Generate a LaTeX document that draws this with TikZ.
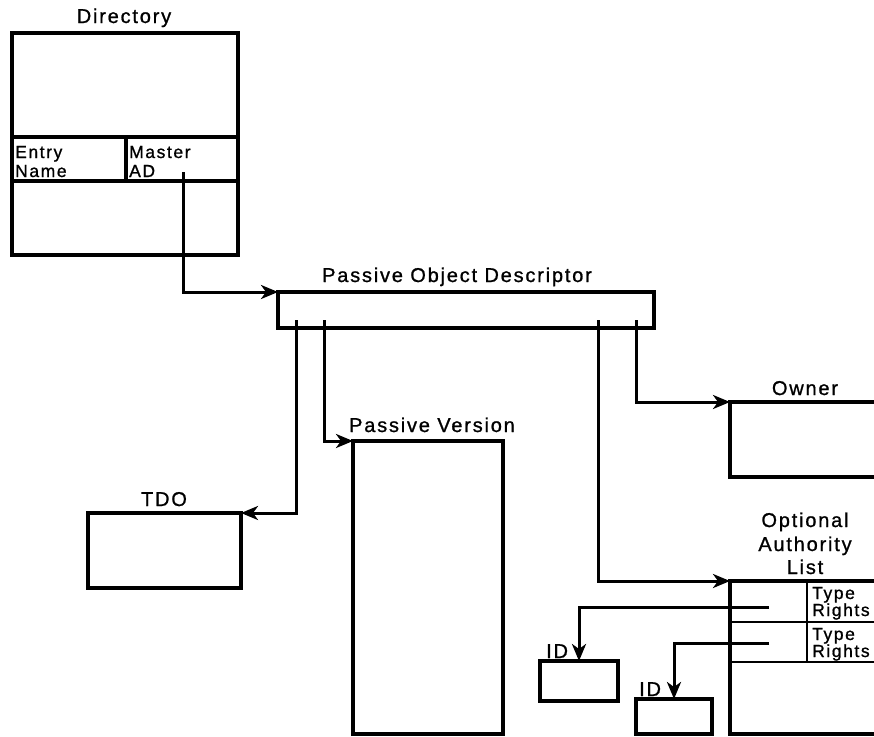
\documentclass[tikz,border=0pt]{standalone}
\usepackage{fontspec}
\setmainfont{Liberation Sans}[LetterSpace=9,FakeBold=1.0]
\usetikzlibrary{arrows.meta}
\begin{document}
\begin{tikzpicture}[x=1pt,y=-1pt,
  box/.style={draw, line width=3.6pt, rectangle, inner sep=0pt, outer sep=0pt, anchor=north west},
  divider/.style={line width=3.4pt},
  thindiv/.style={line width=2.8pt},
  conn/.style={line width=3pt, -{Stealth[length=17pt,width=14pt,inset=5pt]}},
  title/.style={inner sep=0pt, anchor=base, font=\fontsize{20}{23}\selectfont},
  lbl/.style={inner sep=0pt, anchor=base west, font=\fontsize{17.5}{19}\selectfont},
  idlbl/.style={inner sep=0pt, anchor=base west, font=\fontsize{20}{23}\selectfont}
]
\useasboundingbox (0,0) rectangle (874,736);
\clip (0,0) rectangle (874,736);

% Directory
\node[title] (tdir) at (124,23) {Directory};
\node[box, minimum width=226pt, minimum height=222pt] (dir) at (12,33) {};
\draw[divider] (12,137) -- (238,137);
\draw[divider] (12,181) -- (238,181);
\draw[divider] (126,137) -- (126,181);
\node[lbl] (entry) at (15,158) {Entry};
\node[lbl] (ename) at (15,177) {Name};
\node[lbl] (master) at (129,158) {Master};
\node[lbl] (mad) at (129,177) {AD};
\coordinate (madpt) at (183,172);

% Passive Object Descriptor
\node[title] (tpod) at (457,282) {Passive Object Descriptor};
\node[box, minimum width=376pt, minimum height=36pt] (pod) at (278,292) {};
\coordinate (p1) at (296,320);
\coordinate (p2) at (324,320);
\coordinate (p3) at (598,320);
\coordinate (p4) at (636,320);

% TDO
\node[title] (ttdo) at (164,506) {TDO};
\node[box, minimum width=153pt, minimum height=75pt] (tdo) at (88,513) {};

% Passive Version
\node[title] (tpv) at (432,432) {Passive Version};
\node[box, minimum width=150pt, minimum height=293pt] (pv) at (353,441) {};

% Owner
\node[title] (town) at (805,395) {Owner};
\node[box, minimum width=300pt, minimum height=75pt] (own) at (730,402) {};

% Optional Authority List
\node[title] (toal1) at (805,527) {Optional};
\node[title] (toal2) at (805,551) {Authority};
\node[title] (toal3) at (805,574) {List};
\node[box, minimum width=300pt, minimum height=153pt] (oal) at (730,581) {};
\draw[thindiv] (730,622) -- (880,622);
\draw[thindiv] (730,662) -- (880,662);
\draw[thindiv] (807,581) -- (807,662);
\node[lbl] (type1) at (812,599) {Type};
\node[lbl] (rights1) at (812,616) {Rights};
\node[lbl] (type2) at (812,640) {Type};
\node[lbl] (rights2) at (812,657) {Rights};
\coordinate (s1) at (769,607);
\coordinate (s2) at (769,643);

% ID boxes
\node[idlbl] (tid1) at (546,658) {ID};
\node[box, minimum width=78pt, minimum height=40pt] (id1) at (540,661) {};
\node[idlbl] (tid2) at (639,696) {ID};
\node[box, minimum width=76pt, minimum height=35pt] (id2) at (636,699) {};

% connectors
\draw[conn] (madpt) |- (pod.north west);
\draw[conn] (p1) |- (tdo.north east);
\draw[conn] (p2) |- (pv.north west);
\draw[conn] (p3) |- (oal.north west);
\draw[conn] (p4) |- (own.north west);
\draw[conn] (s1) -| (id1.north);
\draw[conn] (s2) -| (id2.north);
\end{tikzpicture}
\end{document}
